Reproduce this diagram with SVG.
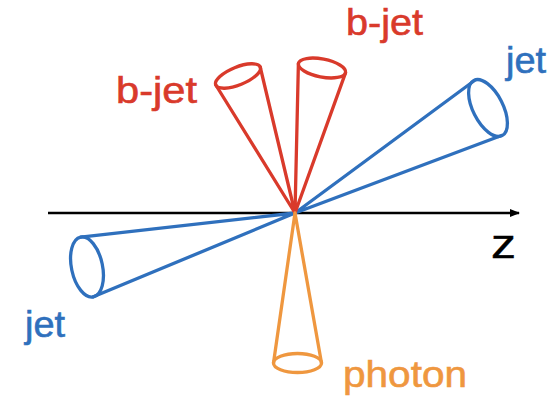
<svg xmlns="http://www.w3.org/2000/svg" width="560" height="398" viewBox="0 0 560 398">
<defs>
<style>
.cone{fill:none;stroke-width:3.3;stroke-linejoin:round;stroke-linecap:round}
.red{stroke:#d93a2b}
.blue{stroke:#2f70bd}
.orange{stroke:#ef973f}
.lbl{font-family:"Liberation Sans",Arial,Helvetica,sans-serif;font-size:37px;stroke-width:0.6}
</style>
<marker id="arr" markerWidth="10" markerHeight="8" refX="9" refY="4" orient="auto" markerUnits="userSpaceOnUse">
<path d="M0,0 L10,4 L0,8 Z" fill="#000"/>
</marker>
</defs>
<rect width="560" height="398" fill="#fff"/>
<g id="connectors">
<line id="z-axis" x1="48" y1="213" x2="519" y2="213" stroke="#000" stroke-width="2.4" marker-end="url(#arr)"/>
</g>
<g id="jet-left">
<path class="cone blue" d="M295,213 L80.7,237.2 M295,213 L93.3,296.8"/>
<ellipse class="cone blue" cx="87" cy="267" rx="30.5" ry="15.5" transform="rotate(78 87 267)"/>
<text class="lbl" x="25" y="337" fill="#2f70bd" stroke="#2f70bd" textLength="40" lengthAdjust="spacingAndGlyphs">jet</text>
</g>
<g id="jet-right">
<path class="cone blue" d="M295,213 L474.5,80.5 M295,213 L501.5,135.5"/>
<ellipse class="cone blue" cx="488" cy="108" rx="31" ry="15" transform="rotate(63 488 108)"/>
<text class="lbl" x="506" y="73" fill="#2f70bd" stroke="#2f70bd" textLength="40" lengthAdjust="spacingAndGlyphs">jet</text>
</g>
<g id="bjet-left">
<path class="cone red" d="M295,213 L215.8,85 M295,213 L260.2,67"/>
<ellipse class="cone red" cx="238" cy="76" rx="24" ry="9" transform="rotate(-22 238 76)"/>
<text class="lbl" x="116" y="103" fill="#d93a2b" stroke="#d93a2b" textLength="81" lengthAdjust="spacingAndGlyphs">b-jet</text>
</g>
<g id="bjet-right">
<path class="cone red" d="M295,213 L298.4,63.4 M295,213 L345.6,72.6"/>
<ellipse class="cone red" cx="322" cy="68" rx="24" ry="9" transform="rotate(11 322 68)"/>
<text class="lbl" x="346" y="35" fill="#d93a2b" stroke="#d93a2b" textLength="77" lengthAdjust="spacingAndGlyphs">b-jet</text>
</g>
<g id="photon">
<path class="cone orange" d="M295,213 L273.5,363 M295,213 L321.5,363"/>
<ellipse class="cone orange" cx="297.5" cy="363" rx="24" ry="9.5"/>
<text class="lbl" x="343" y="387" fill="#ef973f" stroke="#ef973f" textLength="124" lengthAdjust="spacingAndGlyphs">photon</text>
</g>
<g id="z-label">
<text class="lbl" x="491" y="258" fill="#000" style="font-size:40px;stroke-width:0.4" stroke="#000" textLength="25" lengthAdjust="spacingAndGlyphs">z</text>
</g>
</svg>
